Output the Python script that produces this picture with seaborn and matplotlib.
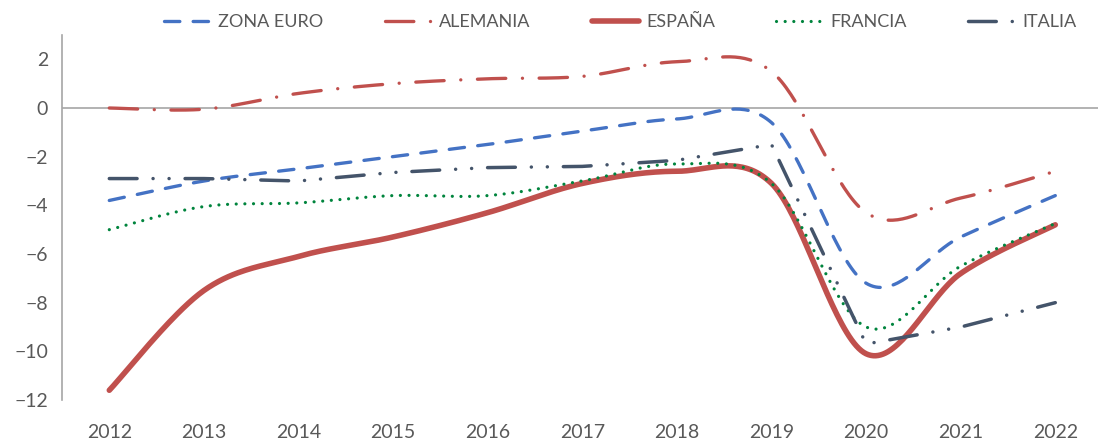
import numpy as np
import matplotlib
matplotlib.use("Agg")
import matplotlib.pyplot as plt
import seaborn as sns

years = [2012, 2013, 2014, 2015, 2016, 2017, 2018, 2019, 2020, 2021, 2022]

zona_euro = [-3.8, -3.0, -2.5, -2.0, -1.5, -0.95, -0.45, -0.6, -7.2, -5.3, -3.6]
alemania = [0.0, -0.05, 0.6, 1.0, 1.2, 1.3, 1.9, 1.5, -4.3, -3.7, -2.6]
espana = [-11.6, -7.5, -6.1, -5.3, -4.3, -3.1, -2.6, -3.1, -10.1, -6.8, -4.8]
francia = [-5.0, -4.05, -3.9, -3.6, -3.6, -3.0, -2.3, -3.1, -9.0, -6.5, -4.75]
italia = [-2.9, -2.9, -3.0, -2.65, -2.45, -2.4, -2.15, -1.5, -9.7, -9.0, -8.0]

y_ticks = [-12, -10, -8, -6, -4, -2, 0, 2]


def smooth(xv, yv, steps=40):
    # Excel-style smoothed line: Catmull-Rom curve drawn as cubic Bezier segments
    p = np.column_stack([xv, yv]).astype(float)
    p = np.vstack([p[0], p, p[-1]])
    xs, ys = [], []
    t = np.linspace(0, 1, steps)
    for i in range(1, len(p) - 2):
        p0, p3 = p[i], p[i + 1]
        c1 = p0 + (p[i + 1] - p[i - 1]) / 6
        c2 = p3 - (p[i + 2] - p[i]) / 6
        seg = ((1 - t) ** 3)[:, None] * p0 + (3 * (1 - t) ** 2 * t)[:, None] * c1 \
            + (3 * (1 - t) * t ** 2)[:, None] * c2 + (t ** 3)[:, None] * p3
        if i > 1:
            seg = seg[1:]
        xs.extend(seg[:, 0])
        ys.extend(seg[:, 1])
    return np.array(xs), np.array(ys)


sns.set_style("white")
plt.rcParams["font.family"] = ["Lato", "DejaVu Sans"]
text_color = "#595959"

fig = plt.figure(figsize=(10.98, 4.41), dpi=100)
ax = fig.add_axes([62 / 1098, 41 / 441, 1040.6 / 1098, 365 / 441])

# name, values, colour, width, dash pattern, smoothed?
series = [
    ("ZONA EURO", zona_euro, "#4472C4", 2.4, (0, (4.6, 4.0)), True),
    ("ALEMANIA", alemania, "#C0504D", 2.4, (0, (8.5, 5.0, 0.01, 5.0)), True),
    ("ESPAÑA", espana, "#C0504D", 4.0, "-", True),
    ("FRANCIA", francia, "#00843D", 2.3, (0, (0.01, 2.7)), True),
    ("ITALIA", italia, "#44546A", 2.5, (0, (8.0, 4.6, 0.01, 4.6, 0.01, 4.6)), False),
]

for name, vals, color, lw, ls, smoothed in series:
    if smoothed:
        sx, sy = smooth(years, vals)
    else:
        sx, sy = np.array(years), np.array(vals)
    sns.lineplot(x=sx, y=sy, ax=ax, sort=False, estimator=None, color=color,
                 linewidth=lw, linestyle=ls, label=name,
                 dash_capstyle="round", solid_capstyle="round")

ax.axhline(0, color="#A6A6A6", linewidth=1.2, zorder=0)
ax.set_xlim(2011.5, 2022.5)
ax.set_ylim(-12, 3)
ax.set_yticks(y_ticks)
ax.set_xticks(years)
ax.set_xticklabels([str(y) for y in years])
for side in ["top", "right", "bottom"]:
    ax.spines[side].set_visible(False)
ax.spines["left"].set_color("#A6A6A6")
ax.spines["left"].set_linewidth(1.2)
ax.tick_params(axis="y", length=0, pad=10, labelsize=14, labelcolor=text_color)
ax.tick_params(axis="x", length=0, pad=17, labelsize=14, labelcolor=text_color)
ax.set_xlabel("")
ax.set_ylabel("")

handles, labels = ax.get_legend_handles_labels()
ax.get_legend().remove()
fig.legend(handles, labels, loc="center", bbox_to_anchor=(0.565, 0.95), ncol=5,
           frameon=False, fontsize=13, handlelength=2.6, handletextpad=0.4,
           columnspacing=3.4, labelcolor=text_color)

fig.savefig("out.png", dpi=100)
